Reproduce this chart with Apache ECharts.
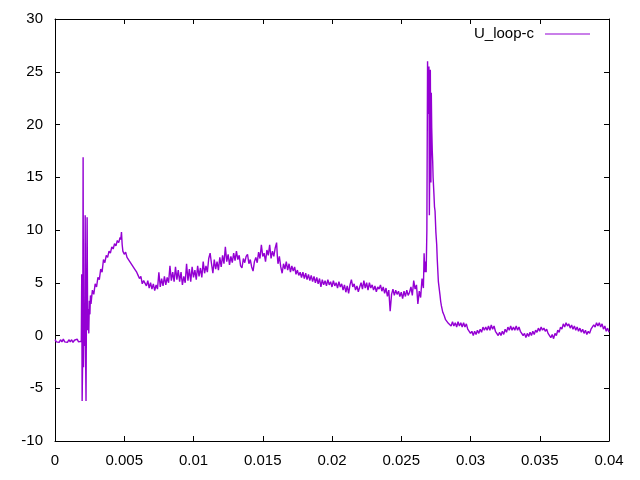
<!DOCTYPE html>
<html>
<head>
<meta charset="utf-8">
<script src="https://cdn.jsdelivr.net/npm/echarts@6/dist/echarts.min.js"></script>
<style>html,body{margin:0;padding:0;background:#fff}#c{width:640px;height:480px}</style>
</head>
<body>
<div id="c"></div>
<script>
var seriesName = "U_loop-c";
var xTicks = [0, 0.005, 0.01, 0.015, 0.02, 0.025, 0.03, 0.035, 0.04];
var yTicks = [-10, -5, 0, 5, 10, 15, 20, 25, 30];

// [time, voltage] pairs, by segment
var baseline = [[0,-0.4],[0.0001,-0.6],[0.0002,-0.45],[0.0003,-0.65],[0.0004,-0.4],[0.0005,-0.6],[0.0006,-0.35],[0.0007,-0.6],[0.0008,-0.45],[0.0009,-0.65],[0.001,-0.4],[0.0011,-0.6],[0.0012,-0.4],[0.0013,-0.65],[0.0014,-0.45],[0.0015,-0.6],[0.0016,-0.35],[0.0017,-0.6],[0.0018,-0.45],[0.0019,-0.55]];
var startSpikes = [[0.00193,5.8],[0.00196,-6.2],[0.002,-2],[0.00203,16.9],[0.00206,-3],[0.0021,3],[0.00214,-1],[0.00218,11.4],[0.00221,-2],[0.00224,-6.2],[0.00227,2],[0.00232,11.2],[0.00236,0.5],[0.0024,2.5],[0.00244,0.2],[0.00248,3.3],[0.00252,2.0],[0.00256,3.8],[0.0026,3.0]];
var rise = [[0.0027,4.3],[0.0028,3.9],[0.0029,4.9],[0.003,4.6],[0.0031,5.5],[0.0032,5.3],[0.0033,6.3],[0.0034,6.0],[0.0035,7.2],[0.0036,6.9],[0.0037,7.6],[0.0038,7.4],[0.0039,8.0],[0.004,7.8],[0.0041,8.4],[0.0042,8.2],[0.0043,8.7],[0.0044,8.5],[0.0045,9.0],[0.0046,8.8],[0.0047,9.3],[0.00475,9.1],[0.0048,9.8],[0.00485,8.6],[0.0049,8.0],[0.005,7.7],[0.0051,7.9],[0.0052,7.4],[0.0053,7.5],[0.0054,7.0],[0.0055,7.1],[0.0056,6.6],[0.0057,6.7],[0.0058,6.2],[0.0059,6.0],[0.006,5.7],[0.0061,5.4],[0.0062,5.6],[0.0063,4.9],[0.0064,5.2]];
var trough = [[0.0065,5.3],[0.0066,4.7],[0.0067,5.2],[0.0068,4.5],[0.0069,5.0],[0.007,4.4],[0.0071,4.9],[0.0072,4.25],[0.0073,4.8],[0.0074,4.4],[0.0075,6.0],[0.0076,4.6],[0.0077,5.4],[0.0078,4.7],[0.0079,5.6],[0.008,4.8],[0.0081,5.5],[0.0082,5.0],[0.0083,6.6],[0.0084,5.2],[0.0085,6.0],[0.0086,5.1],[0.0087,6.5],[0.0088,5.3],[0.0089,6.2],[0.009,5.1],[0.0091,6.0],[0.0092,4.8],[0.0093,5.6],[0.0094,5.0],[0.0095,6.8],[0.0096,5.2],[0.0097,6.3],[0.0098,5.1],[0.0099,6.5],[0.01,5.5],[0.0101,6.2],[0.0102,5.3],[0.0103,6.6],[0.0104,5.6],[0.0105,6.4],[0.0106,5.5],[0.0107,7.0],[0.0108,5.9],[0.0109,6.6],[0.011,6.0],[0.0111,7.3],[0.0112,7.8]];
var hump = [[0.0113,6.8],[0.0114,5.9],[0.0115,7.2],[0.0116,6.3],[0.0117,7.0],[0.0118,6.2],[0.0119,7.4],[0.012,6.5],[0.0121,7.6],[0.0122,6.8],[0.0123,8.4],[0.0124,7.0],[0.0125,7.7],[0.0126,6.7],[0.0127,7.5],[0.0128,6.9],[0.0129,7.8],[0.013,7.1],[0.0131,8.0],[0.0132,7.2],[0.0133,7.6],[0.0134,6.6],[0.0135,6.4],[0.0136,7.3],[0.0137,6.9],[0.0138,7.5],[0.0139,7.7],[0.014,6.8],[0.0141,7.2],[0.0142,6.5],[0.0143,6.1],[0.0144,7.0],[0.0145,7.4],[0.0146,6.9],[0.0147,7.9],[0.0148,7.3],[0.0149,8.6],[0.015,7.5],[0.0151,7.8],[0.0152,7.0],[0.0153,8.1],[0.0154,7.6],[0.0155,8.6],[0.0156,7.3],[0.0157,8.0],[0.0158,7.5],[0.0159,8.3],[0.016,8.8],[0.01605,7.6],[0.0161,6.8],[0.0162,7.5],[0.0163,6.5],[0.0164,5.9],[0.0165,6.8],[0.0166,6.3],[0.0167,7.0],[0.0168,6.2],[0.0169,6.8],[0.017,6.0],[0.0171,6.6],[0.0172,6.1],[0.0173,6.5],[0.0174,5.8],[0.0175,6.2],[0.0176,5.7],[0.0177,6.0]];
var decline = [[0.0178,5.5],[0.0179,6.0],[0.018,5.4],[0.0181,5.9],[0.0182,5.3],[0.0183,5.8],[0.0184,5.2],[0.0185,5.7],[0.0186,5.1],[0.0187,5.6],[0.0188,5.0],[0.0189,5.5],[0.019,4.9],[0.0191,5.4],[0.0192,4.6],[0.0193,5.3],[0.0194,4.8],[0.0195,5.2],[0.0196,4.7],[0.0197,5.3],[0.0198,4.8],[0.0199,5.1],[0.02,4.6],[0.0201,5.2],[0.0202,4.7],[0.0203,5.0],[0.0204,4.5],[0.0205,5.1],[0.0206,4.6],[0.0207,4.9],[0.0208,4.3],[0.0209,4.8],[0.021,4.1],[0.0211,4.7],[0.0212,4.0],[0.0213,4.8],[0.0214,5.3],[0.0215,4.6],[0.0216,4.9],[0.0217,4.3],[0.0218,4.7],[0.0219,4.15],[0.022,4.6],[0.0221,5.0],[0.0222,4.4],[0.0223,5.2],[0.0224,4.5],[0.0225,5.0],[0.0226,4.3],[0.0227,5.0],[0.0228,4.5],[0.0229,4.8],[0.023,4.3],[0.0231,4.7],[0.0232,4.15],[0.0233,4.6],[0.0234,4.4],[0.0235,4.8],[0.0236,4.2],[0.0237,4.6],[0.0238,4.0],[0.0239,4.5],[0.024,3.7],[0.0241,4.3],[0.0242,2.3],[0.0243,3.9],[0.0244,4.4],[0.0245,3.8],[0.0246,4.3],[0.0247,3.9],[0.0248,4.2],[0.0249,3.7],[0.025,4.1],[0.0251,3.5],[0.0252,4.2],[0.0253,3.7],[0.0254,4.3],[0.0255,3.8],[0.0256,4.1]];
var mainSpike = [[0.0257,4.6],[0.0258,3.8],[0.0259,5.2],[0.026,4.4],[0.0261,4.8],[0.0262,3.0],[0.0263,4.2],[0.0264,3.6],[0.0265,5.4],[0.0266,4.5],[0.02665,7.8],[0.0267,6.0],[0.02675,7.0],[0.0268,6.0],[0.02685,10],[0.0269,26.0],[0.02695,21],[0.027,25.5],[0.02703,11.4],[0.02707,18],[0.0271,25.2],[0.02714,14.5],[0.02717,23.0],[0.0272,19.7],[0.02724,17.5],[0.02727,16.5],[0.0273,15],[0.02736,13.4],[0.0274,12.2],[0.02744,11.8],[0.0275,9.8],[0.02756,8.6],[0.0276,7.2],[0.02768,5.1],[0.0278,3.8],[0.02785,3.2],[0.0279,2.8],[0.028,2.2],[0.0281,1.9],[0.0282,1.5],[0.0283,1.4],[0.0284,1.15]];
var tail = [[0.0285,1.3],[0.0286,0.9],[0.0287,1.3],[0.0288,0.9],[0.0289,1.2],[0.029,0.8],[0.0291,1.3],[0.0292,0.9],[0.0293,1.2],[0.0294,0.8],[0.0295,1.2],[0.0296,0.8],[0.0297,1.1],[0.0298,0.6],[0.0299,0.7],[0.03,0.2],[0.0301,0.4],[0.0302,0.0],[0.0303,0.4],[0.0304,0.1],[0.0305,0.5],[0.0306,0.2],[0.0307,0.6],[0.0308,0.3],[0.0309,0.8],[0.031,0.5],[0.0311,0.8],[0.0312,0.5],[0.0313,0.9],[0.0314,0.5],[0.0315,1.0],[0.0316,0.6],[0.0317,0.9],[0.0318,0.4],[0.0319,0.5],[0.032,0.0],[0.0321,0.3],[0.0322,0.0],[0.0323,0.4],[0.0324,0.1],[0.0325,0.6],[0.0326,0.3],[0.0327,0.8],[0.0328,0.5],[0.0329,0.9],[0.033,0.5],[0.0331,0.8],[0.0332,0.5],[0.0333,0.9],[0.0334,0.5],[0.0335,0.8],[0.0336,0.4],[0.0337,0.5],[0.0338,0.0],[0.0339,0.2],[0.034,-0.2],[0.0341,0.2],[0.0342,-0.1],[0.0343,0.3],[0.0344,0.0],[0.0345,0.4],[0.0346,0.1],[0.0347,0.5],[0.0348,0.3],[0.0349,0.7],[0.035,0.4],[0.0351,0.8],[0.0352,0.5],[0.0353,0.7],[0.0354,0.4],[0.0355,0.6],[0.0356,0.2],[0.0357,0.3],[0.0358,-0.2],[0.0359,0.1],[0.036,-0.3],[0.0361,0.2],[0.0362,0.0],[0.0363,0.5],[0.0364,0.3],[0.0365,0.8],[0.0366,0.6],[0.0367,1.1],[0.0368,0.8],[0.0369,1.2],[0.037,0.9],[0.0371,1.1],[0.0372,0.7],[0.0373,1.0],[0.0374,0.6],[0.0375,0.9],[0.0376,0.5],[0.0377,0.8],[0.0378,0.4],[0.0379,0.7],[0.038,0.3],[0.0381,0.6],[0.0382,0.2],[0.0383,0.5],[0.0384,0.1],[0.0385,0.4],[0.0386,0.2],[0.0387,0.6],[0.0388,0.5],[0.0389,1.0],[0.039,0.8],[0.0391,1.2],[0.0392,0.9],[0.0393,1.2],[0.0394,0.8],[0.0395,1.1],[0.0396,0.6],[0.0397,0.9],[0.0398,0.4],[0.0399,0.7],[0.04,0.3]];

var data = [].concat(baseline, startSpikes, rise, trough, hump, decline, mainSpike, tail);

var FONT = 'Liberation Sans';
var LINE_COLOR = '#9400D3';
var labelStyle = {color: '#000', fontFamily: FONT, fontSize: 15};
var chart = echarts.init(document.getElementById('c'), null, {renderer: 'canvas'});
function axisCommon(show) {
  return {
    axisLine: {show: true, onZero: false, lineStyle: {color: '#000', width: 1}},
    axisTick: {show: true, inside: true, length: 5, lineStyle: {color: '#000', width: 1}},
    splitLine: {show: false},
    axisLabel: show ? Object.assign({margin: 12}, labelStyle) : {show: false}
  };
}
chart.setOption({
  animation: false,
  backgroundColor: '#fff',
  grid: {left: 55, right: 31, top: 19, bottom: 39, show: false},
  legend: {
    show: true, right: 45, top: 21.5, align: 'right', orient: 'vertical',
    icon: 'rect', itemWidth: 45, itemHeight: 1,
    itemStyle: {color: LINE_COLOR, borderWidth: 0, opacity: 1},
    lineStyle: {color: LINE_COLOR, width: 0, opacity: 0},
    textStyle: Object.assign({padding: [0, 6, 0, 0]}, labelStyle),
    data: [seriesName]
  },
  xAxis: [
    Object.assign({type: 'value', position: 'bottom', min: xTicks[0], max: xTicks[xTicks.length-1], interval: 0.005}, axisCommon(true)),
    Object.assign({type: 'value', position: 'top', min: xTicks[0], max: xTicks[xTicks.length-1], interval: 0.005}, axisCommon(false))
  ],
  yAxis: [
    Object.assign({type: 'value', position: 'left', min: yTicks[0], max: yTicks[yTicks.length-1], interval: 5}, axisCommon(true)),
    Object.assign({type: 'value', position: 'right', min: yTicks[0], max: yTicks[yTicks.length-1], interval: 5}, axisCommon(false))
  ],
  series: [{
    name: seriesName, type: 'line', data: data, xAxisIndex: 0, yAxisIndex: 0,
    showSymbol: false, symbol: 'none', sampling: null,
    lineStyle: {color: LINE_COLOR, width: 1.4}, itemStyle: {color: LINE_COLOR}
  }]
});
</script>
</body>
</html>
